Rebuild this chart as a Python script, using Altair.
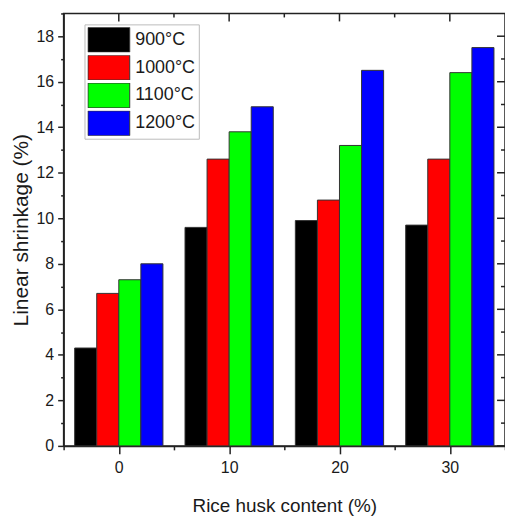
import altair as alt
import pandas as pd

# ---- data ----
contents = [0, 10, 20, 30]
temps = ["900°C", "1000°C", "1100°C", "1200°C"]
colors = ["#000000", "#ff0000", "#00ff00", "#0000ff"]
s900 = [4.3, 9.6, 9.9, 9.7]
s1000 = [6.7, 12.6, 10.8, 12.6]
s1100 = [7.3, 13.8, 13.2, 16.4]
s1200 = [8.0, 14.9, 16.5, 17.5]
x_ticks = [-5, 0, 5, 10, 15, 20, 25, 30, 35]
x_major = [0, 10, 20, 30]
x_minor = [5, 15, 25]
y_ticks = list(range(0, 20))
y_major = [0, 2, 4, 6, 8, 10, 12, 14, 16, 18]
y_minor = [1, 3, 5, 7, 9, 11, 13, 15, 17]

rows = []
for i, (t, vals) in enumerate(zip(temps, [s900, s1000, s1100, s1200])):
    for c, v in zip(contents, vals):
        rows.append({"content": c, "temp": t, "idx": i, "value": v})
df = pd.DataFrame(rows)

W, H = 444, 435
FONT = "Liberation Sans"
TXT = "#1a1a1a"
LINE = "#222222"

xscale = alt.Scale(domain=[-5, 35], nice=False, zero=False, padding=0)
yscale = alt.Scale(domain=[0, 19], nice=False, padding=0)

x_axis = alt.Axis(
    values=x_ticks,
    labelExpr="(datum.value % 10 == 0 && datum.value >= 0 && datum.value <= 30) ? datum.label : ''",
    tickSize={"condition": {"test": "datum.value % 10 == 0", "value": 8}, "value": 4},
    title="Rice husk content (%)",
    titleFontSize=19,
    titlePadding=21,
    labelFontSize=16,
    labelPadding=6,
    grid=False,
)
y_axis = alt.Axis(
    values=y_ticks,
    labelExpr="(datum.value % 2 == 0 && datum.value <= 18) ? datum.label : ''",
    tickSize={"condition": {"test": "datum.value % 2 == 0", "value": 6}, "value": 3},
    title="Linear shrinkage (%)",
    titleFontSize=21,
    titlePadding=5,
    labelFontSize=16,
    labelPadding=4,
    grid=False,
)

bars = alt.Chart(df).transform_calculate(
    x0="datum.content - 4 + 2*datum.idx",
    x1="datum.content - 2 + 2*datum.idx",
).mark_bar(stroke="#333333", strokeWidth=1).encode(
    x=alt.X("x0:Q", scale=xscale, axis=x_axis),
    x2="x1:Q",
    y=alt.Y("value:Q", scale=yscale, axis=y_axis),
    y2=alt.datum(0),
    fill=alt.Fill(
        "temp:N",
        scale=alt.Scale(domain=temps, range=colors),
        legend=alt.Legend(
            title=None,
            orient="none",
            legendX=21,
            legendY=11,
            symbolType="M-1,-0.595H1V0.595H-1Z",
            symbolSize=1764,
            clipHeight=25,
            rowPadding=3,
            labelOffset=5,
            labelFont=FONT,
            labelFontSize=18,
            labelColor=TXT,
            symbolStrokeColor="#333333",
            symbolStrokeWidth=1,
            symbolOpacity=1,
            strokeColor="#bbbbbb",
            fillColor="white",
            padding=3,
        ),
    ),
)

# inward ticks on the top and right frame edges
def xticks(vals, length):
    return alt.Chart(pd.DataFrame({"x0": vals})).mark_rule(
        color=LINE, strokeWidth=1.5
    ).encode(
        x=alt.X("x0:Q", scale=xscale, axis=x_axis),
        y=alt.value(0),
        y2=alt.value(length),
    )

def yticks(vals, length):
    return alt.Chart(pd.DataFrame({"value": vals})).mark_rule(
        color=LINE, strokeWidth=1.5
    ).encode(
        y=alt.Y("value:Q", scale=yscale, axis=y_axis),
        x=alt.value(W),
        x2=alt.value(W - length),
    )

chart = (
    alt.layer(
        bars,
        xticks(x_major, 8),
        xticks(x_minor, 4),
        yticks(y_major, 8),
        yticks(y_minor, 4),
    )
    .properties(
        width=W,
        height=H,
        padding={"left": 64, "top": 12, "right": 0, "bottom": 69},
        autosize=alt.AutoSizeParams(type="none"),
        background="white",
    )
    .configure_view(stroke=LINE, strokeWidth=1.5)
    .configure_axis(
        domainColor=LINE,
        domainWidth=1.5,
        tickColor=LINE,
        tickWidth=1.5,
        labelFont=FONT,
        titleFont=FONT,
        labelColor=TXT,
        titleColor=TXT,
        titleFontWeight="normal",
    )
)

chart.save("out.html", embed_options={"renderer": "svg", "actions": False})
